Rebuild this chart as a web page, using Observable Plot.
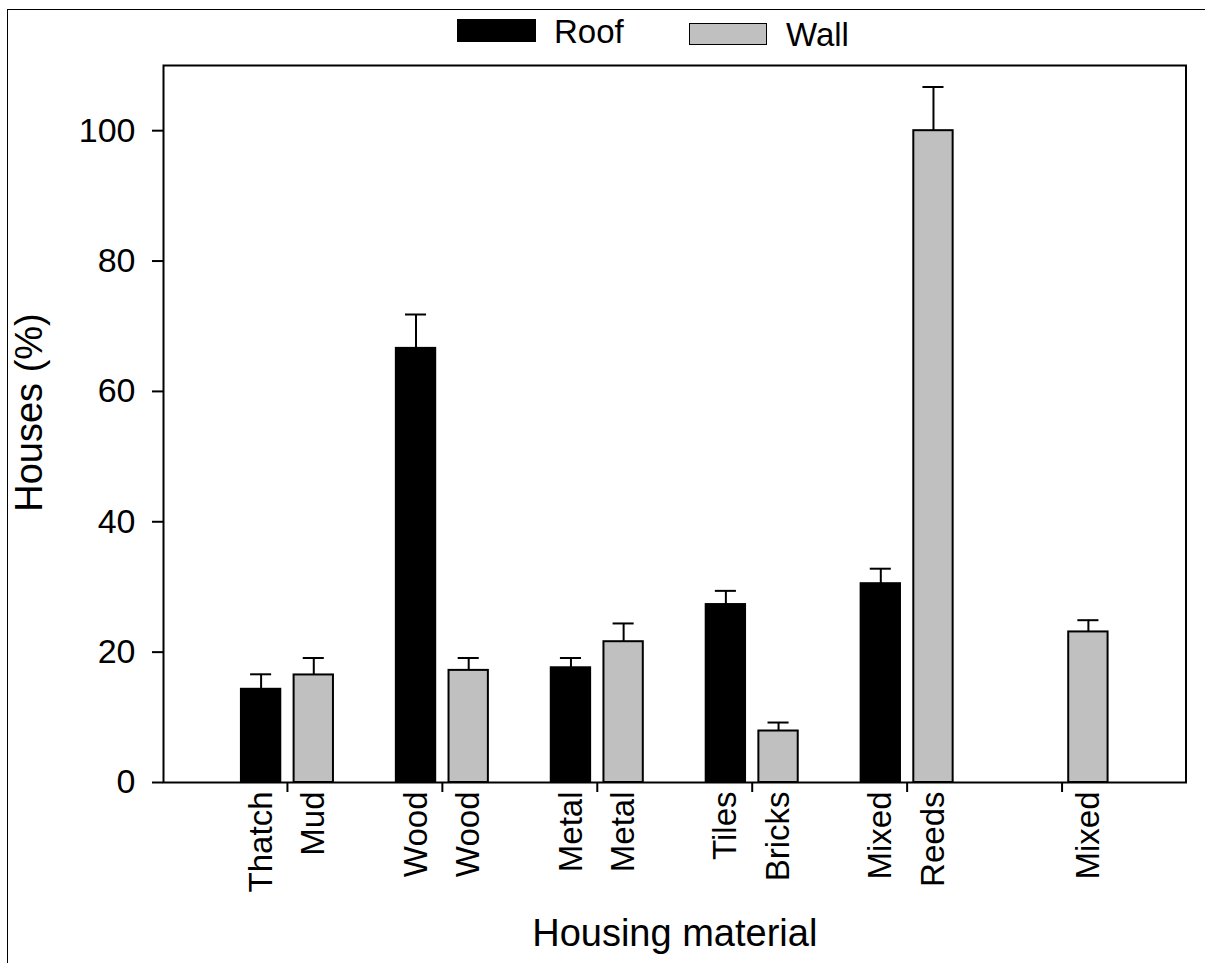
<!DOCTYPE html>
<html>
<head>
<meta charset="utf-8">
<script src="https://cdn.jsdelivr.net/npm/d3@7"></script>
<script src="https://cdn.jsdelivr.net/npm/@observablehq/plot@0.6"></script>
<style>
  html, body { margin: 0; padding: 0; background: #fff; overflow: hidden; }
  body { width: 1205px; height: 963px; position: relative;
         font-family: "Liberation Sans", Arial, sans-serif; }
  #outer { position: absolute; left: 7px; top: 9px; width: 1300px; height: 1100px;
           border-left: 1px solid #000; border-top: 1px solid #000; pointer-events: none; }
  #legend { position: relative; height: 56px; }
  #legend .sw { position: absolute; box-sizing: border-box; }
  #legend .lab { position: absolute; font-size: 33px; line-height: 1; color: #000; white-space: nowrap; }
  #chart svg { display: block; }
</style>
</head>
<body>
<div id="legend">
  <div class="sw" style="left:457px; top:19px; width:79px; height:23px; background:#000;"></div>
  <span class="lab" style="left:554px; top:15px;">Roof</span>
  <div class="sw" style="left:689px; top:23px; width:78px; height:22px; background:#c0c0c0; border:1.5px solid #000;"></div>
  <span class="lab" style="left:786px; top:18px;">Wall</span>
</div>
<div id="chart"></div>
<div id="outer"></div>
<script>
// ---- data ----
const groups      = [1, 2, 3, 4, 5, 6];
const roofLabels  = ["Thatch", "Wood", "Metal", "Tiles", "Mixed", null];
const roofValues  = [14.3, 66.6, 17.6, 27.3, 30.5, null];
const roofErrors  = [2.3, 5.2, 1.5, 2.1, 2.3, null];
const wallLabels  = ["Mud", "Wood", "Metal", "Bricks", "Reeds", "Mixed"];
const wallValues  = [16.5, 17.2, 21.6, 7.9, 100, 23.1];
const wallErrors  = [2.6, 1.9, 2.8, 1.3, 6.7, 1.8];
const yTicks      = [0, 20, 40, 60, 80, 100];

// ---- build table ----
const rows = [];
groups.forEach((g, i) => {
  if (roofValues[i] != null) rows.push({group: g, type: "Roof", label: roofLabels[i], value: roofValues[i], err: roofErrors[i]});
  if (wallValues[i] != null) rows.push({group: g, type: "Wall", label: wallLabels[i], value: wallValues[i], err: wallErrors[i]});
});

// layout within a group (in x-scale units)
const inner = 0.043, outerOff = 0.297, capHalf = 0.068;
const x1 = d => d.type === "Roof" ? d.group - outerOff : d.group + inner;
const x2 = d => d.type === "Roof" ? d.group - inner : d.group + outerOff;
const xc = d => (x1(d) + x2(d)) / 2;

const chart = Plot.plot({
  width: 1205,
  height: 907,
  marginTop: 9,
  marginLeft: 163,
  marginRight: 19.5,
  marginBottom: 181,
  style: {fontFamily: "'Liberation Sans', Arial, sans-serif", color: "#000", background: "#fff"},
  x: {domain: [0.2, 6.8]},
  y: {domain: [0, 110]},
  marks: [
    Plot.rect(rows, {
      x1, x2, y1: 0, y2: "value",
      fill: d => d.type === "Roof" ? "#000" : "#c0c0c0",
      stroke: "#000", strokeWidth: 2
    }),
    Plot.ruleX(rows, {x: xc, y1: "value", y2: d => d.value + d.err, stroke: "#000", strokeWidth: 2}),
    Plot.ruleY(rows, {x1: d => xc(d) - capHalf, x2: d => xc(d) + capHalf, y: d => d.value + d.err, stroke: "#000", strokeWidth: 2}),
    Plot.frame({stroke: "#000", strokeWidth: 2}),
    Plot.axisY({ticks: yTicks, tickSize: 11, tickPadding: 17, fontSize: 34, strokeWidth: 2, label: null}),
    Plot.axisX({ticks: groups, tickSize: 10, tickFormat: () => "", strokeWidth: 2, label: null}),
    Plot.text(rows, {
      x: xc, y: 0, text: "label", rotate: -90, textAnchor: "end",
      lineAnchor: "middle", dy: 9, fontSize: 33, fill: "#000"
    }),
    Plot.text(["Housing material"], {
      frameAnchor: "bottom", textAnchor: "middle", lineAnchor: "middle", dy: 151, fontSize: 38, fill: "#000"
    }),
    Plot.text(["Houses (%)"], {
      frameAnchor: "left", textAnchor: "middle", lineAnchor: "middle", rotate: -90, dx: -133.5, dy: -11.5, fontSize: 38, fill: "#000"
    })
  ]
});
document.getElementById("chart").appendChild(chart);
</script>
</body>
</html>
